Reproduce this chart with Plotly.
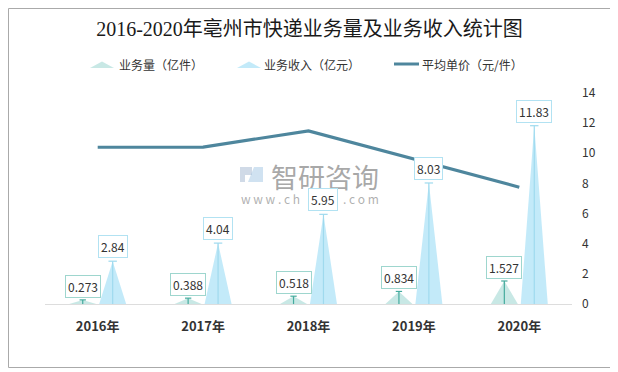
import plotly.graph_objects as go

# ---------------- data ----------------
years = ["2016年", "2017年", "2018年", "2019年", "2020年"]
volume = [0.273, 0.388, 0.518, 0.834, 1.527]          # 业务量（亿件）
revenue = [2.84, 4.04, 5.95, 8.03, 11.83]              # 业务收入（亿元）
unit_price = [10.40, 10.41, 11.49, 9.63, 7.75]         # 平均单价（元/件）
volume_labels = ["0.273", "0.388", "0.518", "0.834", "1.527"]
revenue_labels = ["2.84", "4.04", "5.95", "8.03", "11.83"]
y_ticks = [0, 2, 4, 6, 8, 10, 12, 14]

# ---------------- layout helpers ----------------
PAGE_W, PAGE_H = 618, 372
OX, OY = 8, 8                      # page body margin offset
W, H = PAGE_W - OX, PAGE_H - OY
ML = 45 - OX
MT = 93 - OY
MR = PAGE_W - 572
MB = PAGE_H - 304
PW, PH = W - ML - MR, H - MT - MB


def px(x):
    """page x pixel -> paper"""
    return (x - OX - ML) / PW


def py(y):
    """page y pixel -> paper"""
    return (PAGE_H - MB - y) / PH


FONT = "Noto Sans CJK SC, Microsoft YaHei, sans-serif"
VOL_FILL = "rgba(190,228,224,0.85)"
REV_FILL = "rgba(188,232,248,0.9)"
VOL_LINE = "#45ab9e"
REV_LINE = "#9fdaee"
LINE_C = "#4e869d"

OFF = 0.142
HW = 0.128
idx = list(range(len(years)))


def triangles(offset, values):
    xs, ys = [], []
    for i, v in zip(idx, values):
        c = i + offset
        xs += [c - HW, c, c + HW, c - HW, None]
        ys += [0, v, 0, 0, None]
    return xs, ys


def caps(offset, values, cw):
    xs, ys = [], []
    for i, v in zip(idx, values):
        c = i + offset
        xs += [c, c, None, c - cw, c + cw, None]
        ys += [0, v, None, v, v, None]
    return xs, ys


fig = go.Figure()

vx, vy = triangles(-OFF, volume)
fig.add_trace(go.Scatter(x=vx, y=vy, mode="lines", fill="toself", fillcolor=VOL_FILL,
                         line=dict(width=0), hoverinfo="skip", showlegend=False))
rx, ry = triangles(OFF, revenue)
fig.add_trace(go.Scatter(x=rx, y=ry, mode="lines", fill="toself", fillcolor=REV_FILL,
                         line=dict(width=0), hoverinfo="skip", showlegend=False))

cvx, cvy = caps(-OFF, volume, 0.03)
fig.add_trace(go.Scatter(x=cvx, y=cvy, mode="lines", line=dict(color=VOL_LINE, width=1.2),
                         hoverinfo="skip", showlegend=False))
crx, cry = caps(OFF, revenue, 0.04)
fig.add_trace(go.Scatter(x=crx, y=cry, mode="lines", line=dict(color=REV_LINE, width=1.2),
                         hoverinfo="skip", showlegend=False))

fig.add_trace(go.Scatter(x=idx, y=unit_price, mode="lines",
                         line=dict(color=LINE_C, width=3.2), showlegend=False))

annotations = []
shapes = []

# watermark
shapes.append(dict(type="path", xref="paper", yref="paper",
                   path="M {} {} L {} {} L {} {} L {} {} L {} {} L {} {} Z".format(
                       px(240), py(167), px(252), py(167), px(252), py(175),
                       px(245), py(175), px(245), py(182), px(240), py(182)),
                   fillcolor="rgba(170,188,212,0.55)", line=dict(width=0)))
shapes.append(dict(type="path", xref="paper", yref="paper",
                   path="M {} {} L {} {} L {} {} L {} {} Z".format(
                       px(254), py(167), px(263), py(167), px(263), py(182), px(248), py(182)),
                   fillcolor="rgba(150,190,225,0.45)", line=dict(width=0)))
annotations.append(dict(xref="paper", yref="paper", x=px(325), y=py(176), text="智研咨询",
                        showarrow=False, xanchor="center", yanchor="middle",
                        font=dict(family=FONT, size=27, color="rgba(140,140,140,0.75)")))
annotations.append(dict(xref="paper", yref="paper", x=px(239), y=py(198),
                        text="w w w . c h",
                        showarrow=False, xanchor="left", yanchor="middle",
                        font=dict(family=FONT, size=12, color="rgba(150,150,150,0.75)")))
annotations.append(dict(xref="paper", yref="paper", x=px(381), y=py(198),
                        text=". c o m",
                        showarrow=False, xanchor="right", yanchor="middle",
                        font=dict(family=FONT, size=12, color="rgba(150,150,150,0.75)")))

# data labels
for i, v, t in zip(idx, volume, volume_labels):
    annotations.append(dict(x=i - OFF, y=v, text=t, showarrow=False, xanchor="center",
                            yanchor="bottom", yshift=2, bgcolor="white",
                            bordercolor="#9ed6ce", borderwidth=1, borderpad=2,
                            font=dict(family=FONT, size=12, color="#333")))
for i, v, t in zip(idx, revenue, revenue_labels):
    annotations.append(dict(x=i + OFF, y=v, text=t, showarrow=False, xanchor="center",
                            yanchor="bottom", yshift=3, bgcolor="white",
                            bordercolor="#b2e2f2", borderwidth=1, borderpad=2,
                            font=dict(family=FONT, size=12, color="#333")))

# manual legend
leg_items = [("业务量（亿件）", 90, 118, "vol"),
             ("业务收入（亿元）", 237, 263, "rev"),
             ("平均单价（元/件）", 394, 421, "line")]
for text, ix, tx, kind in leg_items:
    if kind == "line":
        shapes.append(dict(type="line", xref="paper", yref="paper",
                           x0=px(ix), x1=px(ix + 25), y0=py(64), y1=py(64),
                           line=dict(color=LINE_C, width=3)))
    else:
        col = VOL_FILL if kind == "vol" else REV_FILL
        path = "M {} {} L {} {} L {} {} Z".format(px(ix), py(68), px(ix + 12), py(61.5),
                                                  px(ix + 24), py(68))
        shapes.append(dict(type="path", xref="paper", yref="paper", path=path,
                           fillcolor=col, line=dict(width=0)))
    annotations.append(dict(xref="paper", yref="paper", x=px(tx - 1), y=py(64), text=text,
                            showarrow=False, xanchor="left", yanchor="middle",
                            font=dict(family=FONT, size=12, color="#333")))

# outer border
shapes.append(dict(type="rect", xref="paper", yref="paper",
                   x0=px(8.5), x1=px(611.5), y0=py(367.5), y1=py(8.5),
                   line=dict(color="#aaaaaa", width=1), fillcolor="rgba(0,0,0,0)", layer="above"))

fig.update_layout(
    width=W, height=H,
    margin=dict(l=ML, r=MR, t=MT, b=MB),
    paper_bgcolor="white", plot_bgcolor="white",
    title=dict(text="2016-2020年亳州市快递业务量及业务收入统计图",
               x=(309.5 - OX) / W, xanchor="center", xref="container",
               y=1 - (28.5 - OY) / H, yanchor="middle",
               font=dict(family="Liberation Serif, Noto Sans CJK SC, serif", size=20, color="#1a1a1a")),
    showlegend=False,
    annotations=annotations,
    shapes=shapes,
    xaxis=dict(range=[-0.5, 4.5], tickmode="array", tickvals=idx, ticktext=years,
               showgrid=False, zeroline=False, showline=True, linecolor="#dddddd", linewidth=1,
               ticks="", ticklabelstandoff=10,
               tickfont=dict(family=FONT, size=13, color="#333", weight="bold"), fixedrange=True),
    yaxis=dict(range=[0, 14], tickmode="array", tickvals=y_ticks, side="right",
               showgrid=False, zeroline=False, showline=False, ticks="", ticklabelstandoff=9,
               tickfont=dict(family=FONT, size=12, color="#333"), fixedrange=True),
)

fig.write_html("out.html")
